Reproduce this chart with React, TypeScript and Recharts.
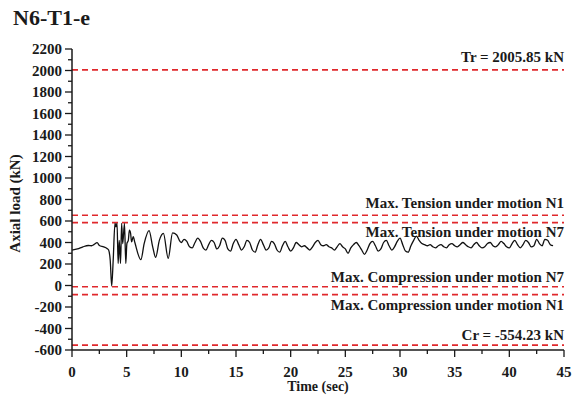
import { LineChart, Line, XAxis, YAxis, ReferenceLine } from "recharts"

// time history (sec / kN)
const timeSec = [
  0, 0.5, 1.0, 1.5, 1.8, 2.0, 2.3, 2.5, 2.9, 3.2, 3.35, 3.5, 3.63, 3.77, 3.93, 4.02, 4.12, 4.22, 4.32, 4.44,
  4.54, 4.64, 4.8, 4.92, 5.02, 5.15, 5.25, 5.36, 5.45, 5.6, 5.75, 6.3, 6.6, 7.05, 7.38, 7.65, 7.99, 8.36,
  8.8, 9.2, 9.58, 9.88,
  10.0, 10.25, 10.5, 10.75, 11.0, 11.25, 11.5, 11.75, 12.0, 12.25, 12.5, 12.75, 13.0, 13.25, 13.5, 13.75,
  14.0, 14.25, 14.5, 14.75, 15.0, 15.25, 15.5, 15.75, 16.0, 16.25, 16.5, 16.75, 17.0, 17.25, 17.5, 17.75,
  18.0, 18.25, 18.5, 18.75, 19.0, 19.25, 19.5, 19.75, 20.0, 20.25, 20.5, 20.75, 21.0, 21.25, 21.5, 21.75,
  22.0, 22.25, 22.5, 22.75, 23.0, 23.25, 23.5, 23.75, 24.0, 24.25, 24.5, 24.75, 25.0, 25.25, 25.5, 25.75,
  26.0, 26.25, 26.5, 26.75, 27.0, 27.25, 27.5, 27.75, 28.0, 28.25, 28.5, 28.75, 29.0, 29.25, 29.5, 29.75,
  30.0, 30.25, 30.5, 30.75, 31.0, 31.25, 31.5, 31.75, 32.0, 32.25, 32.5, 32.75, 33.0, 33.25, 33.5, 33.75,
  34.0, 34.25, 34.5, 34.75, 35.0, 35.25, 35.5, 35.75, 36.0, 36.25, 36.5, 36.75, 37.0, 37.25, 37.5, 37.75,
  38.0, 38.25, 38.5, 38.75, 39.0, 39.25, 39.5, 39.75, 40.0, 40.25, 40.5, 40.75, 41.0, 41.25, 41.5, 41.75,
  42.0, 42.25, 42.5, 42.75, 43.0, 43.25, 43.5, 43.75, 44.0,
]

const axialLoad = [
  330, 340, 360, 372, 370, 380, 398, 372, 360, 345, 330, 230, -5, 240, 578, 545, 578, 205, 420, 205,
  578, 390, 578, 205, 390, 420, 515, 485, 405, 455, 400, 240, 390, 510, 360, 262, 420, 485,
  253, 490, 470, 410,
  400, 430, 410, 360, 350, 400, 440, 410, 350, 330, 380, 420, 400, 340, 370, 440,
  420, 340, 320, 390, 430, 380, 330, 360, 420, 400, 330, 310, 380, 430, 380, 330,
  350, 410, 390, 330, 310, 370, 410, 360, 320, 350, 400, 380, 360, 370, 350, 330,
  360, 400, 420, 380, 370, 380, 360, 350, 330, 360, 390, 360, 340, 300, 350, 380,
  400, 370, 330, 290, 330, 390, 410, 370, 320, 340, 400, 420, 370, 330, 360, 410,
  440, 380, 320, 310, 370, 420, 460, 420, 390, 380, 370, 380, 360, 350, 370, 380,
  360, 350, 380, 390, 370, 360, 380, 400, 380, 360, 350, 380, 400, 370, 350, 360,
  390, 400, 370, 360, 380, 410, 390, 360, 350, 390, 420, 380, 350, 380, 420, 400,
  360, 370, 430, 390, 370, 430, 420, 380, 370,
]

const xTicks = [0, 2.5, 5, 7.5, 10, 12.5, 15, 17.5, 20, 22.5, 25, 27.5, 30, 32.5, 35, 37.5, 40, 42.5, 45]
const yTicks = [
  -600, -500, -400, -300, -200, -100, 0, 100, 200, 300, 400, 500, 600, 700, 800, 900, 1000,
  1100, 1200, 1300, 1400, 1500, 1600, 1700, 1800, 1900, 2000, 2100, 2200,
]

const limitValues = [2005.85, 653, 585, -12, -85, -554.23]
const limitLabels = [
  "Tr = 2005.85 kN",
  "Max. Tension under motion N1",
  "Max. Tension under motion N7",
  "Max. Compression under motion N7",
  "Max. Compression under motion N1",
  "Cr = -554.23 kN",
]
// label offset from the dashed line (above = negative)
const labelDy = [-8, -7, 14, -5, 15, -5]

const data = timeSec.map((t, i) => ({ t, load: axialLoad[i] }))

const FONT = "'Liberation Serif', 'Times New Roman', serif"
const INK = "#1a1a1a"

const XTick = (props: any) => {
  const { x, y, payload } = props
  const major = payload.value % 5 === 0
  return (
    <g>
      <line x1={x} y1={y} x2={x} y2={y + (major ? 7 : 4)} stroke={INK} strokeWidth={1.3} />
      {major && (
        <text x={x} y={y + 27} textAnchor="middle" fontFamily={FONT} fontWeight="bold" fontSize={15} fill={INK}>
          {payload.value}
        </text>
      )}
    </g>
  )
}

const YTick = (props: any) => {
  const { x, y, payload } = props
  const major = payload.value % 200 === 0
  return (
    <g>
      <line x1={x} y1={y} x2={x - (major ? 7 : 4)} y2={y} stroke={INK} strokeWidth={1.3} />
      {major && (
        <text x={x - 10} y={y + 5} textAnchor="end" fontFamily={FONT} fontWeight="bold" fontSize={15} fill={INK}>
          {payload.value}
        </text>
      )}
    </g>
  )
}

export default function App() {
  return (
    <div style={{ position: "absolute", left: 0, top: 0, width: 572, height: 399, background: "#fff" }}>
      <div
        style={{
          position: "absolute",
          left: 13,
          top: 5,
          fontFamily: FONT,
          fontWeight: "bold",
          fontSize: 22,
          color: INK,
        }}
      >
        N6-T1-e
      </div>
      <LineChart width={572} height={399} data={data} margin={{ top: 49, right: 8, bottom: 19, left: 10 }}>
        <XAxis
          dataKey="t"
          type="number"
          domain={[0, 45]}
          ticks={xTicks}
          interval={0}
          tickSize={0}
          tickMargin={0}
          tickLine={false}
          tick={<XTick />}
          height={30}
          axisLine={{ stroke: INK, strokeWidth: 1.5 }}
          label={(p: any) => (
            <text
              x={p.viewBox.x + p.viewBox.width / 2}
              y={p.viewBox.y + 41}
              textAnchor="middle"
              fontFamily={FONT}
              fontWeight="bold"
              fontSize={14}
              fill={INK}
            >
              Time (sec)
            </text>
          )}
        />
        <YAxis
          type="number"
          domain={[-600, 2200]}
          ticks={yTicks}
          interval={0}
          tickSize={0}
          tickMargin={0}
          tickLine={false}
          tick={<YTick />}
          width={62}
          axisLine={{ stroke: INK, strokeWidth: 1.5 }}
          label={(p: any) => {
            const cx = 15
            const cy = p.viewBox.y + p.viewBox.height / 2 + 4
            return (
              <text
                x={cx}
                y={cy}
                transform={`rotate(-90 ${cx} ${cy})`}
                textAnchor="middle"
                dominantBaseline="central"
                fontFamily={FONT}
                fontWeight="bold"
                fontSize={15}
                fill={INK}
              >
                Axial load (kN)
              </text>
            )
          }}
        />
        {limitValues.map((v, i) => (
          <ReferenceLine
            key={limitLabels[i]}
            y={v}
            stroke="#e0282c"
            strokeWidth={1.6}
            strokeDasharray="6 4"
            label={(p: any) => (
              <text
                x={p.viewBox.x + p.viewBox.width}
                y={p.viewBox.y + labelDy[i]}
                textAnchor="end"
                fontFamily={FONT}
                fontWeight="bold"
                fontSize={15}
                fill={INK}
              >
                {limitLabels[i]}
              </text>
            )}
          />
        ))}
        <Line
          type="monotone"
          dataKey="load"
          stroke="#111"
          strokeWidth={1.3}
          dot={false}
          isAnimationActive={false}
        />
      </LineChart>
    </div>
  )
}
